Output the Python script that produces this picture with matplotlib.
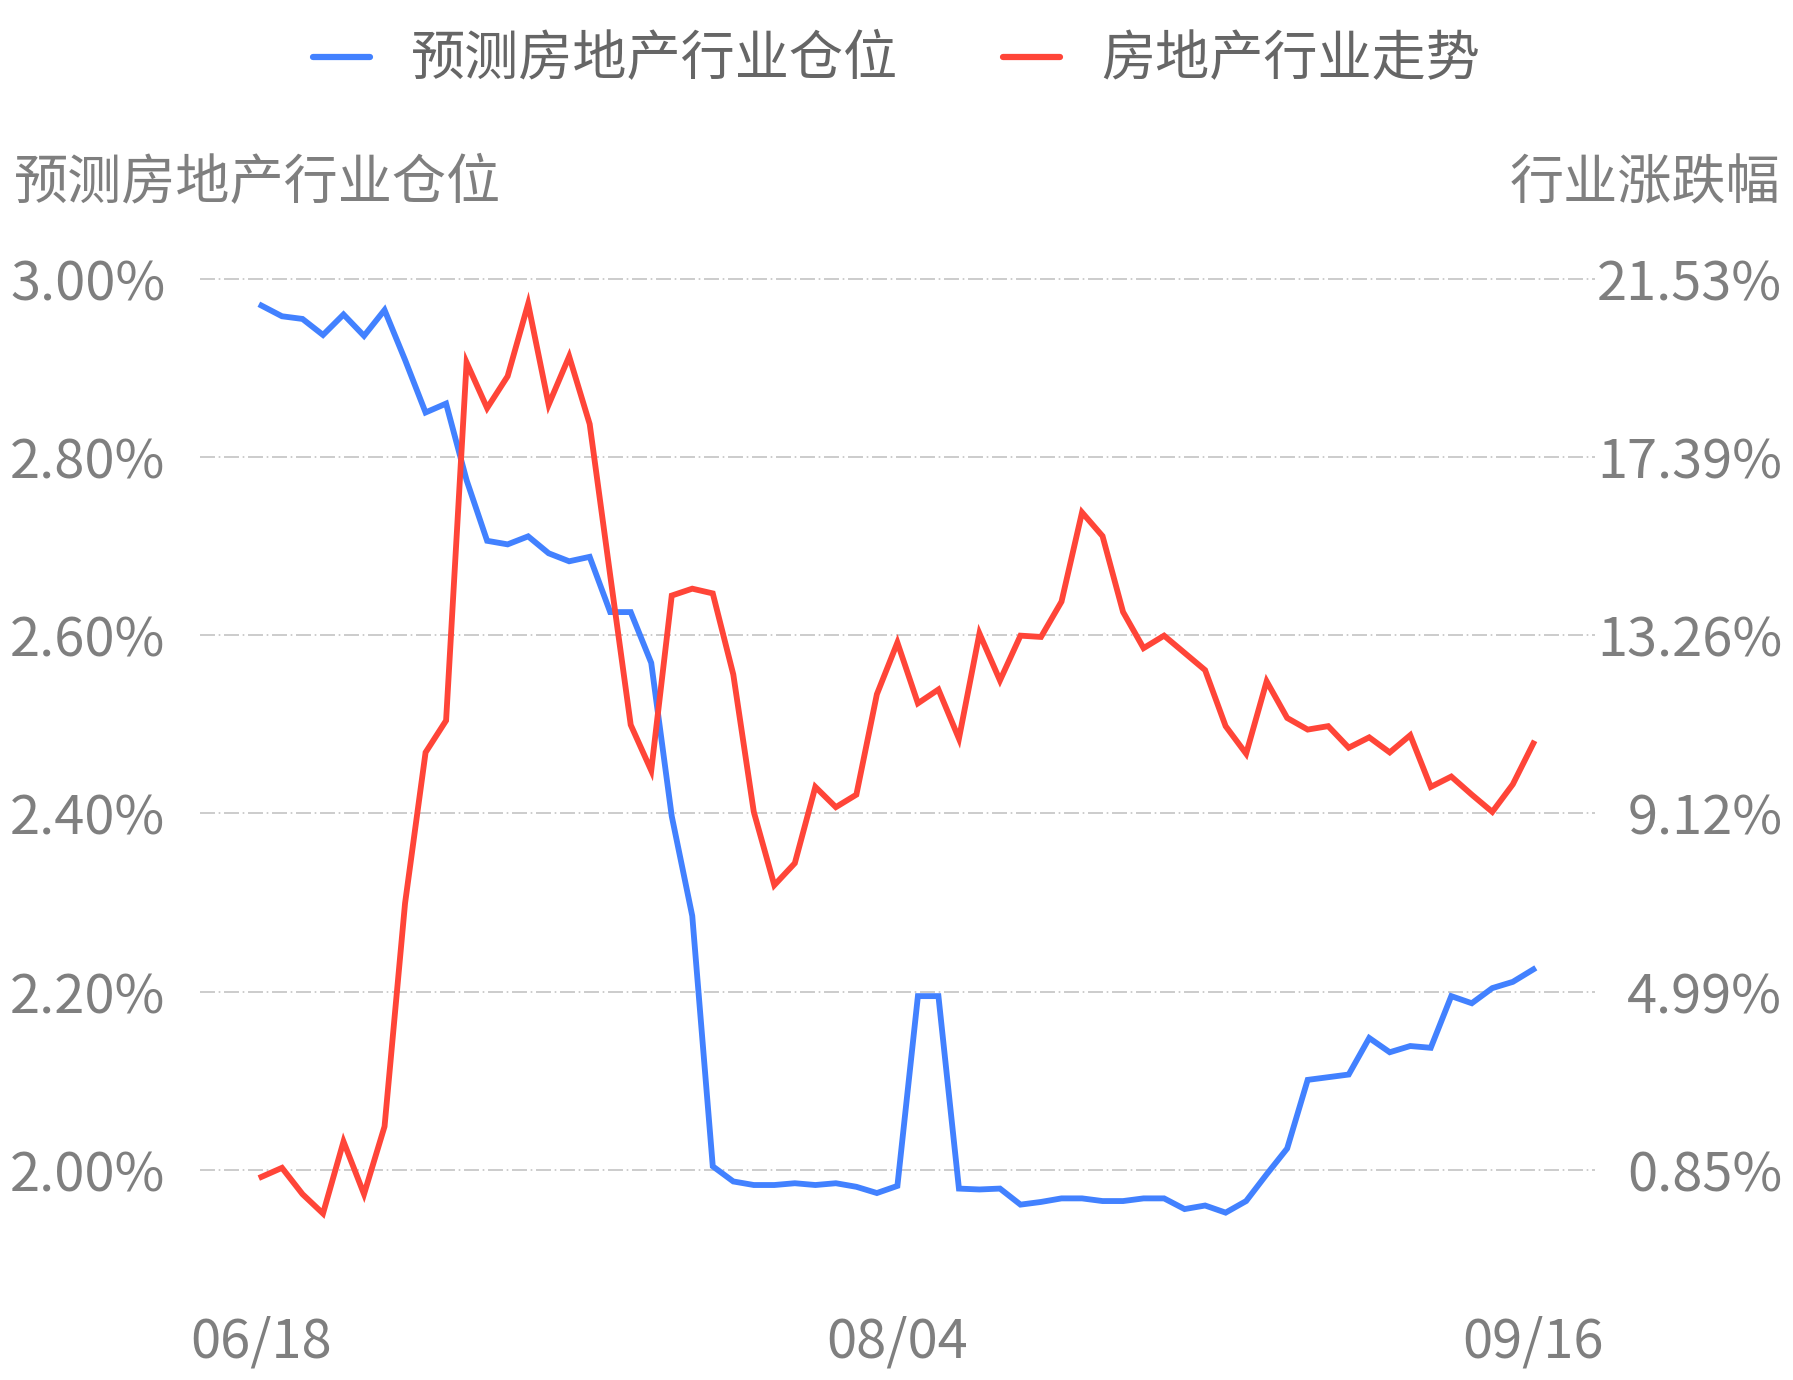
import numpy as np
import matplotlib.pyplot as plt

plt.rcParams['font.family'] = ['Noto Sans CJK SC', 'DejaVu Sans']

# data
n_days = 63
x_labels = ['06/18', '08/04', '09/16']
x_label_pos = [0, 31, 62]

position = [2.970, 2.958, 2.955, 2.937, 2.960, 2.936, 2.965, 2.909, 2.850, 2.860,
            2.774, 2.706, 2.702, 2.711, 2.692, 2.683, 2.688, 2.626, 2.626, 2.569,
            2.397, 2.285, 2.004, 1.987, 1.983, 1.983, 1.985, 1.983, 1.985, 1.981,
            1.974, 1.982, 2.195, 2.195, 1.979, 1.978, 1.979, 1.961, 1.964, 1.968,
            1.968, 1.965, 1.965, 1.968, 1.968, 1.956, 1.960, 1.952, 1.965, 1.995,
            2.024, 2.101, 2.104, 2.107, 2.148, 2.132, 2.139, 2.137, 2.195, 2.187,
            2.204, 2.211, 2.225]

trend = [0.69, 0.90, 0.29, -0.16, 1.51, 0.29, 1.86, 7.04, 10.54, 11.28,
         19.59, 18.53, 19.27, 20.95, 18.61, 19.73, 18.16, 14.65, 11.18, 10.12,
         14.18, 14.34, 14.23, 12.35, 9.16, 7.46, 7.97, 9.74, 9.27, 9.56,
         11.89, 13.09, 11.68, 12.00, 10.86, 13.30, 12.21, 13.25, 13.22, 14.04,
         16.11, 15.56, 13.80, 12.96, 13.25, 12.85, 12.45, 11.15, 10.51, 12.19,
         11.34, 11.07, 11.15, 10.65, 10.89, 10.54, 10.94, 9.74, 9.98, 9.56,
         9.16, 9.80, 10.75]

left_ticks = [2.0, 2.2, 2.4, 2.6, 2.8, 3.0]
right_min, right_max = 0.853, 21.53

blue = '#4281ff'
red = '#ff4538'
grey = '#7f7f7f'
fs = 39

fig = plt.figure(figsize=(17.93, 13.80), dpi=100)
ax = fig.add_axes([0.1115, 0.0877, 0.778, 0.7167])
ax2 = ax.twinx()

x = np.arange(n_days)
ax.plot(x, position, color=blue, lw=4.2, solid_joinstyle='miter', zorder=3)
ax2.plot(x, trend, color=red, lw=4.2, solid_joinstyle='miter', zorder=3)

ylo, yhi = 1.90, 3.01
ax.set_ylim(ylo, yhi)
scale = (right_max - right_min) / 1.0
ax2.set_ylim(right_min + (ylo - 2.0) * scale, right_min + (yhi - 2.0) * scale)
ax.set_xlim(-3, 65)

ax.set_yticks(left_ticks)
ax.set_yticklabels(['%.2f%%' % v for v in left_ticks])
right_ticks = np.linspace(right_min, right_max, 6)
ax2.set_yticks(right_ticks)
ax2.set_yticklabels(['%.2f%%' % v for v in right_ticks])
ax.set_xticks(x_label_pos)
ax.set_xticklabels(x_labels)

ax.grid(axis='y', color='#c4c4c4', lw=1.2, linestyle=(0, (9, 2.2, 1, 2.2)))
ax.set_axisbelow(True)
ax2.set_zorder(ax.get_zorder() + 1)
ax2.patch.set_visible(False)

for a in (ax, ax2):
    for s in a.spines.values():
        s.set_visible(False)
ax.tick_params(axis='both', length=0, labelsize=fs, labelcolor=grey)
ax.tick_params(axis='y', pad=25)
ax.tick_params(axis='x', pad=40)
ax2.tick_params(axis='y', length=0, labelsize=fs, labelcolor=grey, pad=135)
for lab in ax2.get_yticklabels():
    lab.set_ha('right')

fig.text(14 / 1793, 1 - 184 / 1380, '预测房地产行业仓位', fontsize=fs, color=grey,
         ha='left', va='center')
fig.text(1780 / 1793, 1 - 184 / 1380, '行业涨跌幅', fontsize=fs, color=grey,
         ha='right', va='center')

h1, = ax.plot([], [], color=blue, lw=4.5, solid_capstyle='round')
h2, = ax.plot([], [], color=red, lw=4.5, solid_capstyle='round')
leg = fig.legend([h1, h2], ['预测房地产行业仓位', '房地产行业走势'], loc='center',
                 bbox_to_anchor=(0.5, 1 - 60 / 1380), ncol=2, frameon=False,
                 fontsize=fs, handlelength=1.05, handletextpad=0.75,
                 columnspacing=1.95)
for t in leg.get_texts():
    t.set_color('#666666')

fig.savefig('out.png', dpi=100)
